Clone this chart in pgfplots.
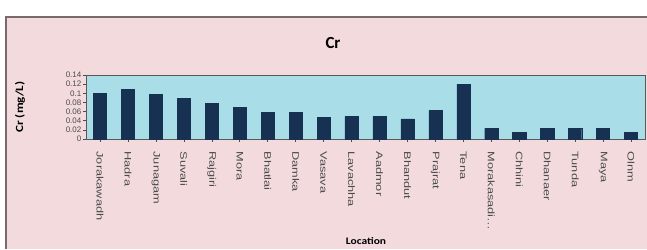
\documentclass[border=0pt]{standalone}
\usepackage{pgfplots}
\pgfplotsset{compat=1.18}
\usepackage{graphicx}
\usepackage{fontspec}
\setmainfont{Carlito}
\newfontfamily\arialf{Liberation Sans}
\newcommand\XL[1]{\scalebox{1.35}[1]{#1}}
\definecolor{bgpink}{HTML}{F2DADD}
\definecolor{plotbg}{HTML}{A9DEE8}
\definecolor{barblue}{HTML}{173152}
\definecolor{framegray}{HTML}{7A6A6C}
\begin{document}
\begin{tikzpicture}[x=1bp,y=1bp]
\path[use as bounding box] (0,0) rectangle (647,249);
\fill[white] (0,0) rectangle (647,249);
\fill[bgpink] (6,0) rectangle (647,232);
\draw[framegray, line width=1.2bp] (6,0) -- (6,232) -- (647,232);
\begin{axis}[
  at={(86bp,110bp)}, anchor=south west,
  scale only axis, width=559bp, height=64bp,
  xmin=-0.5, xmax=19.5, ymin=0, ymax=0.14,
  axis background/.style={fill=plotbg},
  axis line style={draw=gray!70!black, line width=0.6bp},
  ybar, bar width=0.47,
  xtick={0,1,2,3,4,5,6,7,8,9,10,11,12,13,14,15,16,17,18,19},
  xticklabels={\XL{Jorakawadh},\XL{Hadra},\XL{Junagam},\XL{Suvali},\XL{Rajgiri},\XL{Mora},\XL{Bhatlai},\XL{Damka},\XL{Vasava},\XL{Lavachha},\XL{Aadmor},\XL{Bhandut},\XL{Prajrat},\XL{Tena},{\XL{Morakasadi\ldots}},\XL{Chhini},\XL{Dhanaer},\XL{Tunda},\XL{Maya},\XL{Olnm}},
  xticklabel style={rotate=-90, anchor=west, xshift=6bp, font=\arialf\fontsize{9.5}{10}\selectfont, text=black!70},
  ytick={0,0.02,0.04,0.06,0.08,0.1,0.12,0.14},
  yticklabels={0,0.02,0.04,0.06,0.08,0.1,0.12,0.14},
  yticklabel style={font=\arialf\fontsize{8}{8}\selectfont, text=black!70, inner sep=1.5bp},
  tick style={draw=gray!60!black, line width=0.5bp},
  major tick length=3bp,
  tick align=outside,
  xtick pos=bottom, ytick pos=left,
  ylabel={\scalebox{1.2}[1]{\bfseries Cr (mg/L)}},
  ylabel style={at={(axis description cs:-0.118,0.5)}, anchor=center, font=\fontsize{11}{12}\selectfont},
  clip=false,
]
\addplot[fill=barblue, draw=barblue] coordinates {
(0,0.100) (1,0.109) (2,0.098) (3,0.089) (4,0.078) (5,0.069) (6,0.058) (7,0.058) (8,0.048) (9,0.049)
(10,0.049) (11,0.044) (12,0.062) (13,0.120) (14,0.023) (15,0.014) (16,0.023) (17,0.023) (18,0.023) (19,0.014)};
\end{axis}
\node[font=\bfseries\fontsize{17}{18}\selectfont] at (333,206) {Cr};
\node[font=\bfseries\fontsize{10}{11}\selectfont] at (366,8) {\scalebox{1.15}[1]{Location}};
\end{tikzpicture}
\end{document}
